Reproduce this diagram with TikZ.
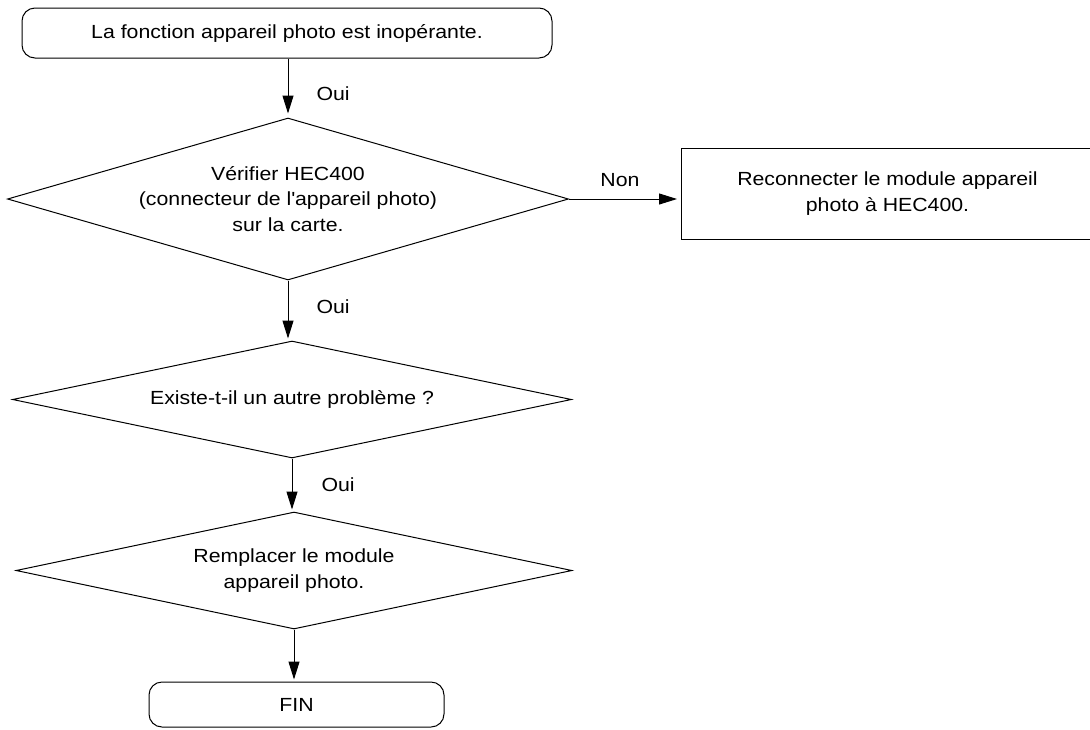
\documentclass[tikz,border=0pt]{standalone}
\usepackage{fontspec}
\setmainfont{Liberation Sans}[FakeStretch=1.12]
\usetikzlibrary{shapes.geometric,arrows.meta}
\begin{document}
\begin{tikzpicture}[x=1pt,y=-1pt, line width=1pt,
  txt/.style={font=\fontsize{19}{25.5}\selectfont, align=center},
  term/.style={txt, draw, rounded corners=13pt, inner sep=0pt},
  decision/.style={txt, draw, diamond, inner sep=0pt},
  procbox/.style={txt, draw, rectangle, inner sep=0pt},
  flow/.style={-{Triangle[length=18pt,width=11pt]}, shorten >=2pt},
  lbl/.style={txt, anchor=west, inner sep=0pt}]
\useasboundingbox (0,0) rectangle (1090,729);
\node[term, minimum width=530, minimum height=50] (start) at (287,33) {La fonction appareil photo est inopérante.};
\node[decision, aspect=3.463, minimum width=561, minimum height=162] (d1) at (288,199) {Vérifier HEC400\\(connecteur de l\textquotesingle appareil photo)\\sur la carte.};
\node[procbox, anchor=west, minimum width=412, minimum height=91] (fix) at (681,193.5) {Reconnecter le module appareil\\photo à HEC400.};
\node[decision, aspect=4.778, minimum width=559, minimum height=117] (d2) at (292,399.5) {Existe-t-il un autre problème ?};
\node[decision, aspect=4.752, minimum width=556, minimum height=117] (d3) at (294,570.5) {Remplacer le module\\appareil photo.};
\node[term, minimum width=295, minimum height=45] (fin) at (296.5,704.5) {FIN};
\draw[flow, shorten >=4pt] (start.south -| d1.north) -- (d1.north);
\draw[flow] (d1.south) -- (d1.south |- d2.north);
\draw[flow] (d2.south) -- (d2.south |- d3.north);
\draw[flow] (d3.south) -- (d3.south |- fin.north);
\draw[flow, shorten >=4pt] (d1.east) -- (d1.east -| fix.west);
\node[lbl] (oui1) at (316,94) {Oui};
\node[lbl] (oui2) at (316,307) {Oui};
\node[lbl] (oui3) at (321,485) {Oui};
\node[txt, inner sep=0pt] (non) at (620,180) {Non};
\end{tikzpicture}
\end{document}
